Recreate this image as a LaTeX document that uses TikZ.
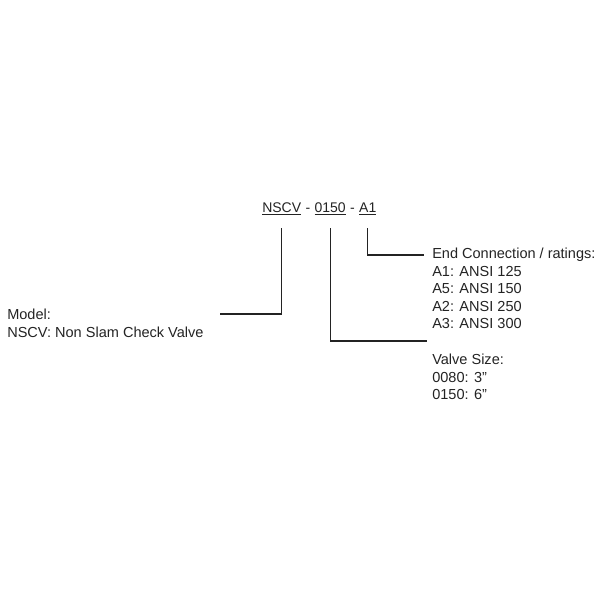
\documentclass[tikz,border=0pt]{standalone}
\usepackage{fontspec}
\setmainfont{Liberation Sans}
\usetikzlibrary{positioning,calc}
\definecolor{codeink}{RGB}{35,35,35}

\begin{document}
\begin{tikzpicture}[
  x=0.75pt,y=-0.75pt,
  codepart/.style={inner sep=0pt,font=\fontsize{10.5}{13.1}\selectfont,text=codeink},
  infobox/.style={inner sep=0pt,align=left,font=\fontsize{10.9}{13.1}\selectfont,text=codeink},
  leader/.style={line width=0.8pt,color=codeink},
  node distance=2.9pt
]
\useasboundingbox (0,0) rectangle (600,600);

% order code
\node[codepart,anchor=base west] (nscv) at (262,212) {\underline{NSCV}};
\node[codepart,right=of nscv.base east,anchor=base west] (dashA) {-};
\node[codepart,right=of dashA.base east,anchor=base west] (size) {\underline{0150}};
\node[codepart,right=of size.base east,anchor=base west] (dashB) {-};
\node[codepart,right=of dashB.base east,anchor=base west] (aone) {\underline{A1}};

% explanations
\node[infobox,anchor=north west] (modelinfo) at (7,309)
    {Model:\\NSCV: Non Slam Check Valve};
\node[infobox,anchor=north west] (conninfo) at (432,248)
    {End Connection / ratings:\\A1: ANSI 125\\A5: ANSI 150\\A2: ANSI 250\\A3: ANSI 300};
\node[infobox,anchor=north west] (sizeinfo) at (432,354)
    {Valve Size:\\0080: 3"\\0150: 6"};

% leader lines
\coordinate (modelend) at ($(modelinfo.north east)+(16,5)$);
\coordinate (connend) at ($(conninfo.north west)+(-8,7)$);
\coordinate (sizeend) at ($(sizeinfo.north west)+(-5,-13)$);
\draw[leader] ([yshift=-12pt]nscv.base) |- (modelend);
\draw[leader] ([yshift=-12pt]size.base) |- (sizeend);
\draw[leader] ([yshift=-12pt]aone.base) |- (connend);

\end{tikzpicture}
\end{document}
